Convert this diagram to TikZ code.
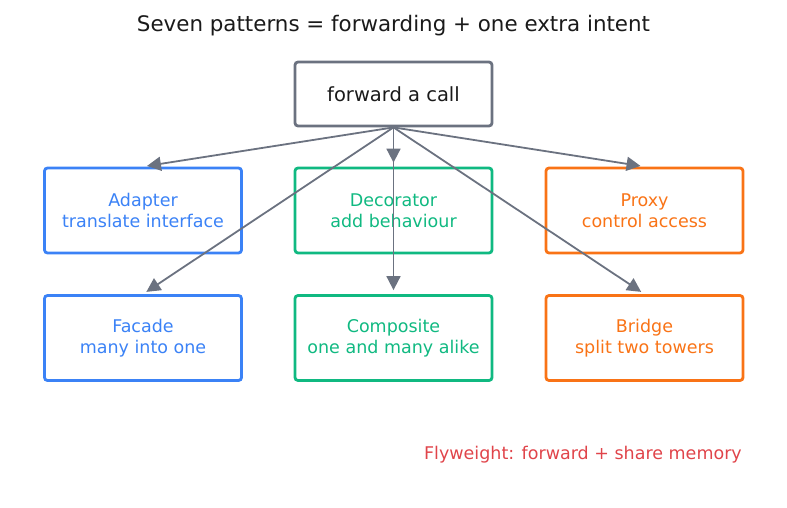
\documentclass[tikz,border=0pt]{standalone}
\usepackage{fontspec}
\setmainfont{DejaVu Sans}
\usetikzlibrary{arrows.meta}
\definecolor{cgray}{HTML}{6B7280}
\definecolor{cblue}{HTML}{3B82F6}
\definecolor{cgreen}{HTML}{10B981}
\definecolor{corange}{HTML}{F97316}
\definecolor{cred}{HTML}{E0444A}
\definecolor{ctext}{HTML}{1A1A1A}
\begin{document}
\begin{tikzpicture}[x=1pt,y=-1pt,
  box/.style={draw=#1, text=#1, line width=2.8pt, rounded corners=3pt, minimum width=197pt, minimum height=85pt, align=center, font=\fontsize{17.5}{21}\selectfont, inner sep=0pt},
  conn/.style={draw=cgray, line width=1.8pt, -{Triangle[length=14pt,width=14pt]}, shorten >=4pt}]
\useasboundingbox (0,0) rectangle (787,508);
\node[text=ctext, font=\fontsize{21.4}{25}\selectfont] (title) at (393.5,25.5) {Seven patterns = forwarding + one extra intent};
\node[box=cgray, text=ctext, minimum height=64pt, font=\fontsize{19.5}{23}\selectfont] (root) at (393.5,94) {forward a call};
\node[box=cblue] (adapter) at (143,210.5) {Adapter\\translate interface};
\node[box=cgreen] (decorator) at (393.5,210.5) {Decorator\\add behaviour};
\node[box=corange] (proxy) at (644.5,210.5) {Proxy\\control access};
\node[box=cblue] (facade) at (143,338) {Facade\\many into one};
\node[box=cgreen] (composite) at (393.5,338) {Composite\\one and many alike};
\node[box=corange] (bridge) at (644.5,338) {Bridge\\split two towers};
\node[text=cred, font=\fontsize{17.5}{21}\selectfont, anchor=east, inner sep=0pt] (fly) at (742,455) {Flyweight: forward + share memory};
\draw[conn] (root.south) -- (adapter.north);
\draw[conn] (root.south) -- (decorator.north);
\draw[conn] (root.south) -- (proxy.north);
\draw[conn] (root.south) -- (facade.north);
\draw[conn] (root.south) -- (composite.north);
\draw[conn] (root.south) -- (bridge.north);
\end{tikzpicture}
\end{document}
